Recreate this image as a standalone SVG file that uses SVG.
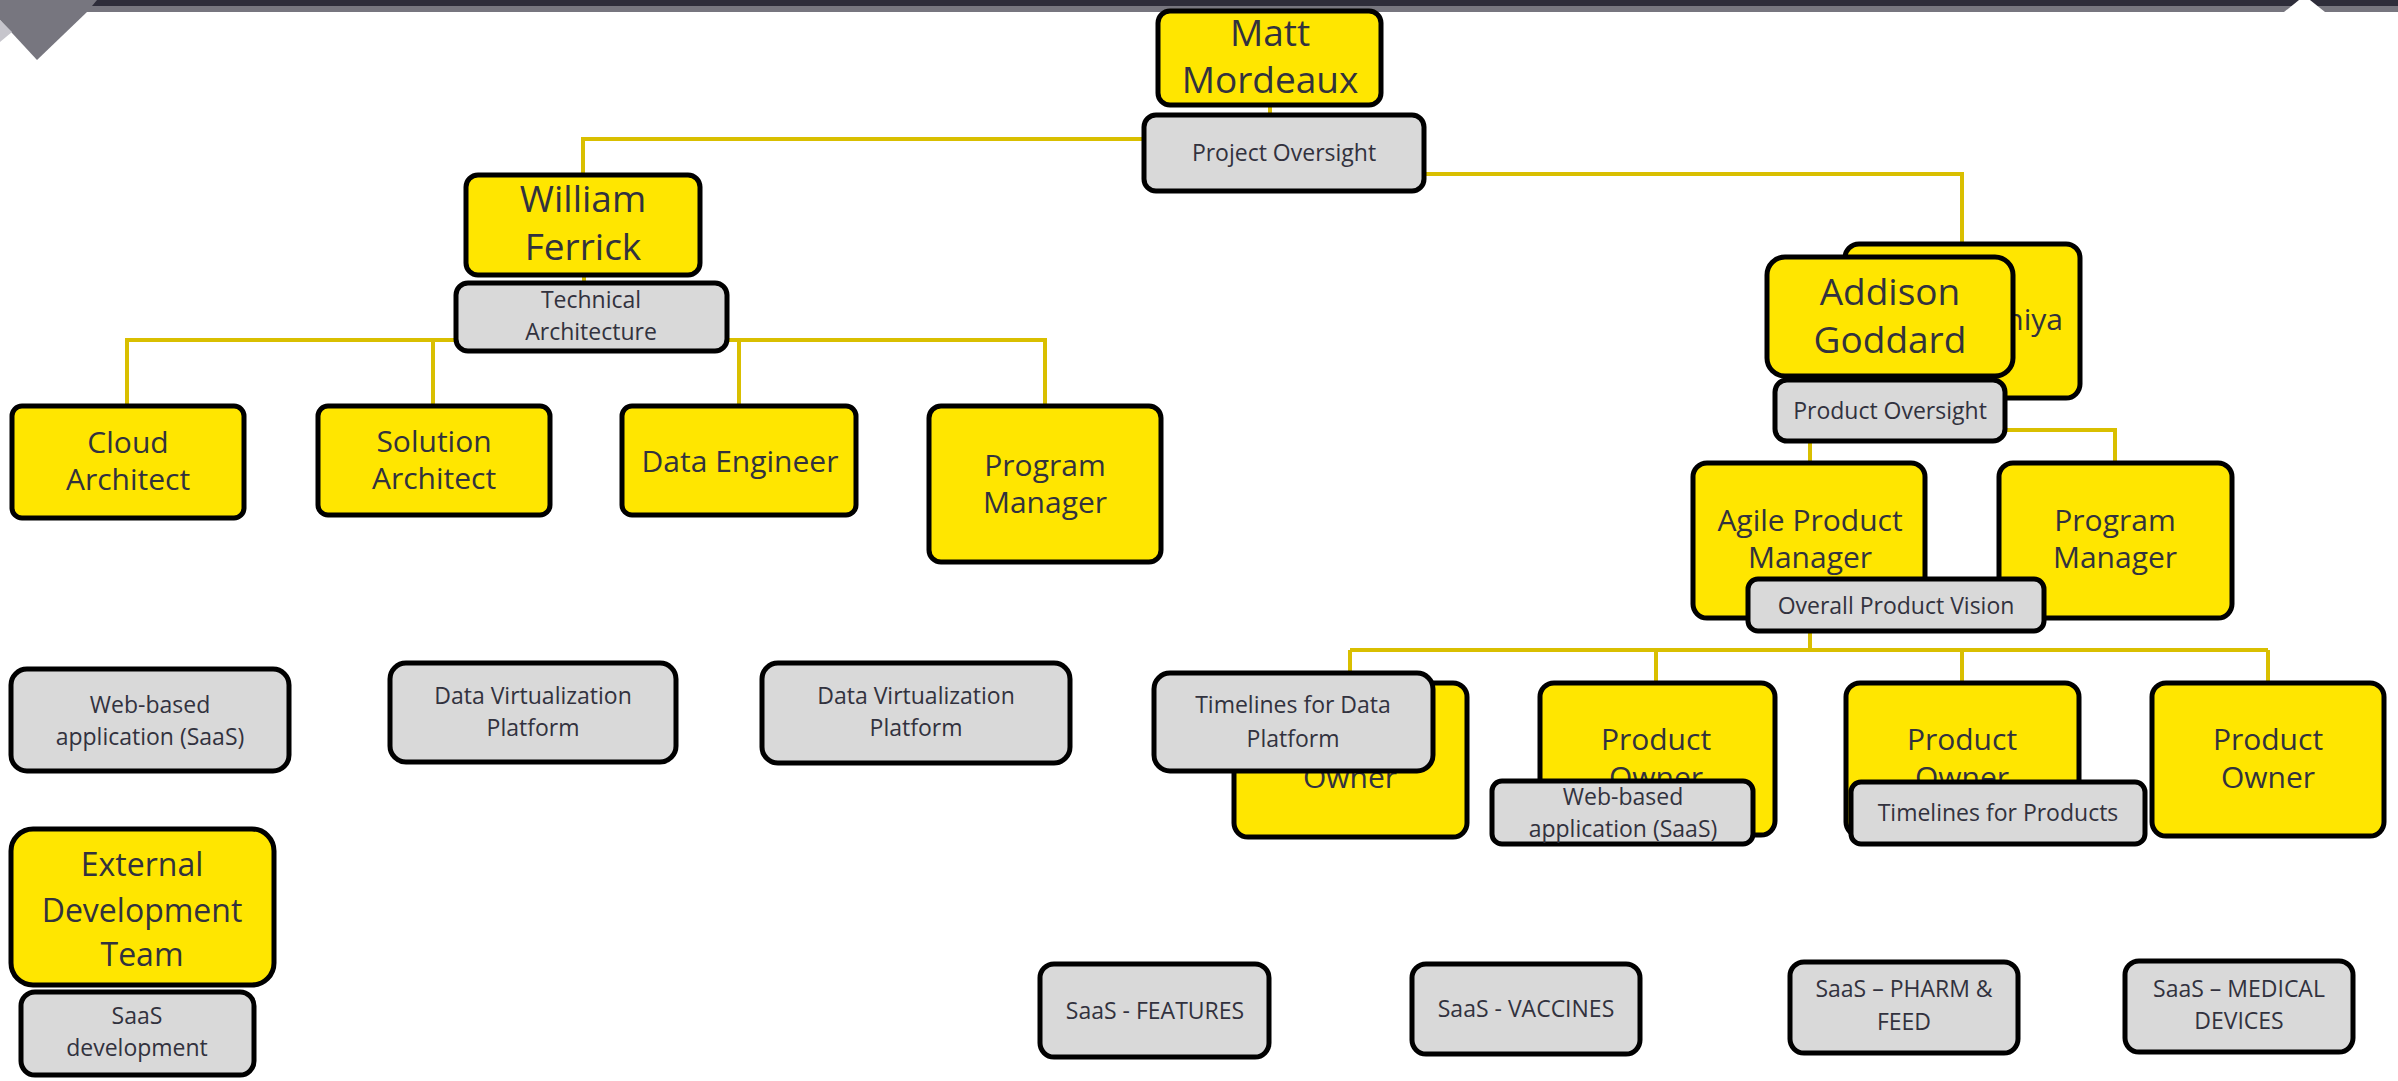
<svg xmlns="http://www.w3.org/2000/svg" width="2398" height="1081" viewBox="0 0 2398 1081">
  <style>
    .bg { fill: #ffffff; }
    .y { fill: #ffe600; stroke: #000; stroke-width: 5; }
    .g { fill: #d9d9d9; stroke: #000; stroke-width: 5; }
    text { font-family: "Open Sans", "Noto Sans", "Liberation Sans", sans-serif; fill: #32323e; text-anchor: middle; }
    .name { font-size: 37px; }
    .role { font-size: 30px; }
    .ext { font-size: 32px; }
    .lbl { font-size: 23px; }
    .conn { fill: none; stroke: #d9bf00; stroke-width: 4; }
  </style>
  <rect class="bg" x="0" y="0" width="2398" height="1081"/>

  <!-- header band -->
  <g id="header">
    <rect x="0" y="0" width="2398" height="6" fill="#2e2d3a"/>
    <rect x="0" y="6" width="2398" height="6" fill="#77767f"/>
    <polygon points="0,0 97,0 87,12 37,60 0,20" fill="#77767f"/>
    <polygon points="0,20 12,32 0,42" fill="#c6c5cc"/>
    <polygon points="2299,0 2310,0 2325,12 2284,12" fill="#ffffff"/>
  </g>

  <!-- connectors -->
  <g id="connectors" class="conn">
    <path d="M1270,106 V113"/>
    <path d="M1142,139 H583 V173"/>
    <path d="M1426,174 H1962 V242"/>
    <path d="M584,276 V281"/>
    <path d="M454,340 H127 V404 M729,340 H1045 V404 M433,340 V404 M739,340 V404"/>
    <path d="M1810,443 V462 M2007,430 H2115 V462"/>
    <path d="M1810,633 V650 M1350,650 H2268 M1350,650 V681 M1656,650 V681 M1962,650 V681 M2268,650 V681"/>
  </g>

  <!-- top level -->
  <g id="matt-mordeaux">
    <rect class="y" x="1158" y="11" width="223" height="94" rx="12"/>
    <text class="name" x="1270" y="46">Matt</text>
    <text class="name" x="1270" y="93">Mordeaux</text>
  </g>
  <g id="project-oversight">
    <rect class="g" x="1144" y="115" width="280" height="76" rx="12"/>
    <text class="lbl" x="1284" y="161">Project Oversight</text>
  </g>

  <!-- technical branch -->
  <g id="william-ferrick">
    <rect class="y" x="466" y="175" width="234" height="100" rx="12"/>
    <text class="name" x="583" y="212">William</text>
    <text class="name" x="583" y="260">Ferrick</text>
  </g>
  <g id="technical-architecture">
    <rect class="g" x="456" y="283" width="271" height="68" rx="12"/>
    <text class="lbl" x="591" y="308">Technical</text>
    <text class="lbl" x="591" y="340">Architecture</text>
  </g>
  <g id="cloud-architect">
    <rect class="y" x="12" y="406" width="232" height="112" rx="10"/>
    <text class="role" x="128" y="453">Cloud</text>
    <text class="role" x="128" y="490">Architect</text>
  </g>
  <g id="solution-architect">
    <rect class="y" x="318" y="406" width="232" height="109" rx="10"/>
    <text class="role" x="434" y="452">Solution</text>
    <text class="role" x="434" y="489">Architect</text>
  </g>
  <g id="data-engineer">
    <rect class="y" x="622" y="406" width="234" height="109" rx="10"/>
    <text class="role" x="740" y="472">Data Engineer</text>
  </g>
  <g id="program-manager-tech">
    <rect class="y" x="929" y="406" width="232" height="156" rx="12"/>
    <text class="role" x="1045" y="476">Program</text>
    <text class="role" x="1045" y="513">Manager</text>
  </g>
  <g id="web-app-left">
    <rect class="g" x="11" y="669" width="278" height="102" rx="16"/>
    <text class="lbl" x="150" y="713">Web-based</text>
    <text class="lbl" x="150" y="745">application (SaaS)</text>
  </g>
  <g id="data-virtualization-1">
    <rect class="g" x="390" y="663" width="286" height="99" rx="16"/>
    <text class="lbl" x="533" y="704">Data Virtualization</text>
    <text class="lbl" x="533" y="736">Platform</text>
  </g>
  <g id="data-virtualization-2">
    <rect class="g" x="762" y="663" width="308" height="100" rx="16"/>
    <text class="lbl" x="916" y="704">Data Virtualization</text>
    <text class="lbl" x="916" y="736">Platform</text>
  </g>
  <g id="external-development-team">
    <rect class="y" x="11" y="829" width="263" height="156" rx="22"/>
    <text class="ext" x="142" y="876">External</text>
    <text class="ext" x="142" y="922">Development</text>
    <text class="ext" x="142" y="966">Team</text>
  </g>
  <g id="saas-development">
    <rect class="g" x="21" y="992" width="233" height="83" rx="14"/>
    <text class="lbl" x="137" y="1024">SaaS</text>
    <text class="lbl" x="137" y="1056">development</text>
  </g>

  <!-- product branch -->
  <g id="product-lead-back">
    <rect class="y" x="1845" y="244" width="235" height="154" rx="14"/>
    <text class="role" x="2063" y="330" style="text-anchor:end">niya</text>
  </g>
  <g id="addison-goddard">
    <rect class="y" x="1767" y="257" width="246" height="119" rx="18"/>
    <text class="name" x="1890" y="305">Addison</text>
    <text class="name" x="1890" y="353">Goddard</text>
  </g>
  <g id="product-oversight">
    <rect class="g" x="1775" y="380" width="230" height="61" rx="12"/>
    <text class="lbl" x="1890" y="419">Product Oversight</text>
  </g>
  <g id="agile-product-manager">
    <rect class="y" x="1693" y="463" width="232" height="155" rx="14"/>
    <text class="role" x="1810" y="531">Agile Product</text>
    <text class="role" x="1810" y="568">Manager</text>
  </g>
  <g id="program-manager-product">
    <rect class="y" x="1999" y="463" width="233" height="155" rx="14"/>
    <text class="role" x="2115" y="531">Program</text>
    <text class="role" x="2115" y="568">Manager</text>
  </g>
  <g id="overall-product-vision">
    <rect class="g" x="1748" y="579" width="296" height="52" rx="10"/>
    <text class="lbl" x="1896" y="614">Overall Product Vision</text>
  </g>

  <g id="product-owner-1">
    <rect class="y" x="1234" y="683" width="233" height="154" rx="14"/>
    <text class="role" x="1350" y="750">Product</text>
    <text class="role" x="1350" y="788">Owner</text>
  </g>
  <g id="timelines-data-platform">
    <rect class="g" x="1154" y="673" width="279" height="98" rx="16"/>
    <text class="lbl" x="1293" y="713">Timelines for Data</text>
    <text class="lbl" x="1293" y="747">Platform</text>
  </g>
  <g id="product-owner-2">
    <rect class="y" x="1540" y="683" width="235" height="152" rx="14"/>
    <text class="role" x="1656" y="750">Product</text>
    <text class="role" x="1656" y="788">Owner</text>
  </g>
  <g id="web-app-right">
    <rect class="g" x="1492" y="781" width="261" height="63" rx="10"/>
    <text class="lbl" x="1623" y="805">Web-based</text>
    <text class="lbl" x="1623" y="837">application (SaaS)</text>
  </g>
  <g id="product-owner-3">
    <rect class="y" x="1846" y="683" width="233" height="153" rx="14"/>
    <text class="role" x="1962" y="750">Product</text>
    <text class="role" x="1962" y="788">Owner</text>
  </g>
  <g id="timelines-products">
    <rect class="g" x="1851" y="782" width="294" height="62" rx="10"/>
    <text class="lbl" x="1998" y="821">Timelines for Products</text>
  </g>
  <g id="product-owner-4">
    <rect class="y" x="2152" y="683" width="232" height="153" rx="14"/>
    <text class="role" x="2268" y="750">Product</text>
    <text class="role" x="2268" y="788">Owner</text>
  </g>

  <g id="saas-features">
    <rect class="g" x="1040" y="964" width="229" height="93" rx="14"/>
    <text class="lbl" x="1155" y="1019">SaaS - FEATURES</text>
  </g>
  <g id="saas-vaccines">
    <rect class="g" x="1412" y="964" width="228" height="90" rx="14"/>
    <text class="lbl" x="1526" y="1017">SaaS - VACCINES</text>
  </g>
  <g id="saas-pharm-feed">
    <rect class="g" x="1790" y="962" width="228" height="91" rx="14"/>
    <text class="lbl" x="1904" y="997">SaaS – PHARM &amp;</text>
    <text class="lbl" x="1904" y="1030">FEED</text>
  </g>
  <g id="saas-medical-devices">
    <rect class="g" x="2125" y="961" width="228" height="91" rx="14"/>
    <text class="lbl" x="2239" y="997">SaaS – MEDICAL</text>
    <text class="lbl" x="2239" y="1029">DEVICES</text>
  </g>
</svg>
